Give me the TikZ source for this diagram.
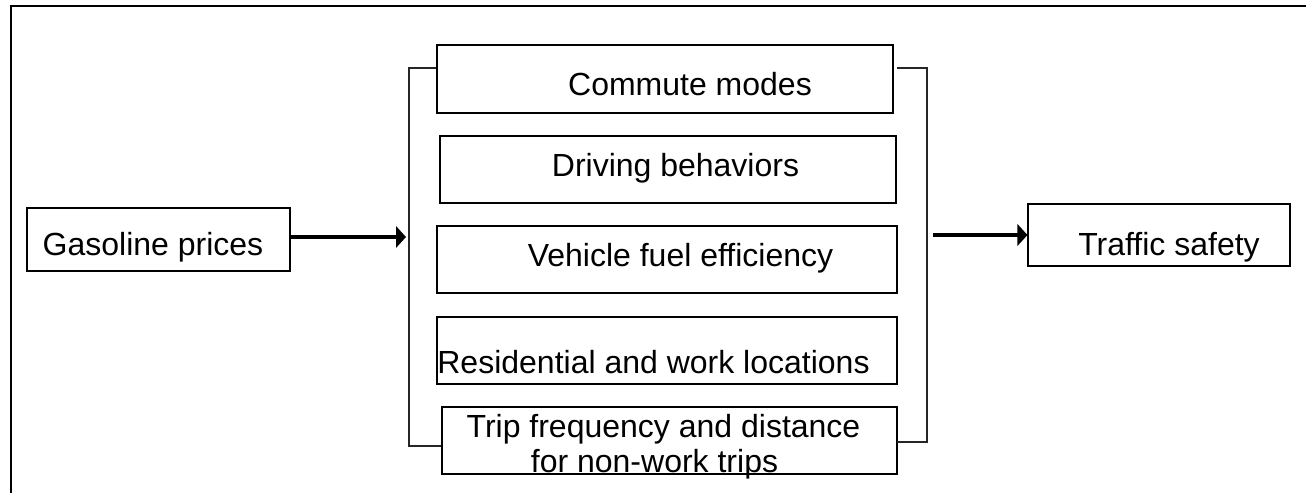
\documentclass[tikz,border=0pt]{standalone}
\usepackage{fontspec}
\setmainfont{Liberation Sans}
\usetikzlibrary{arrows.meta,fit}
\begin{document}
\begin{tikzpicture}[x=0.75pt,y=-0.75pt,
  box/.style={draw=black,line width=0.8pt,inner sep=0pt,rectangle},
  lbl/.style={inner sep=0pt,anchor=base,font=\fontsize{24pt}{28pt}\selectfont},
  bracket/.style={draw=black!85,line width=0.8pt},
  arr/.style={line width=3pt,-{Triangle[length=7.5pt,width=16pt]}},
  frame/.style={line width=1.6pt}]
\useasboundingbox (0,0) rectangle (1306,493);
% outer frame (top and left edges only visible)
\draw[frame] (1306,6) -- (11,6) -- (11,493);
% boxes
\node[box,fit={(27,208) (290,271)}] (gas) {};
\node[box,fit={(437,45) (893,113)}] (commute) {};
\node[box,fit={(440,136) (896,203)}] (driving) {};
\node[box,fit={(437,226) (897,293)}] (vehicle) {};
\node[box,fit={(437,317) (897,384)}] (resid) {};
\node[box,fit={(442,407) (897,474)}] (trip) {};
\node[box,fit={(1028,204) (1290,266)}] (traffic) {};
% texts
\node[lbl] (gasT) at (153,255) {Gasoline prices};
\node[lbl] (commuteT) at (690,95) {Commute modes};
\node[lbl] (drivingT) at (675.5,176) {Driving behaviors};
\node[lbl] (vehicleT) at (680.5,266) {Vehicle fuel efficiency};
\node[lbl] (residT) at (653.5,373) {Residential and work locations};
\node[lbl] (tripTa) at (663.5,437) {Trip frequency and distance};
\node[lbl] (tripTb) at (654.5,472) {for non-work trips};
\node[lbl] (trafficT) at (1169,255) {Traffic safety};
% brackets
\coordinate (lbtop) at (409,68);
\coordinate (lbbot) at (409,446);
\coordinate (rbtopin) at (897,68);
\coordinate (rbtop) at (927,68);
\coordinate (rbbot) at (927,442);
\coordinate (rbbotin) at (897,442);
\draw[bracket] (commute.west |- lbtop) -- (lbtop) -- (lbbot) -- (trip.west |- lbbot);
\draw[bracket] (rbtopin) -- (rbtop) -- (rbbot) -- (rbbotin);
% arrows
\coordinate (inArr) at (406,237);
\coordinate (outArr) at (933,235);
\draw[arr] (gas.east |- inArr) -- (inArr);
\draw[arr] (outArr) -- (traffic.west);
\end{tikzpicture}
\end{document}
